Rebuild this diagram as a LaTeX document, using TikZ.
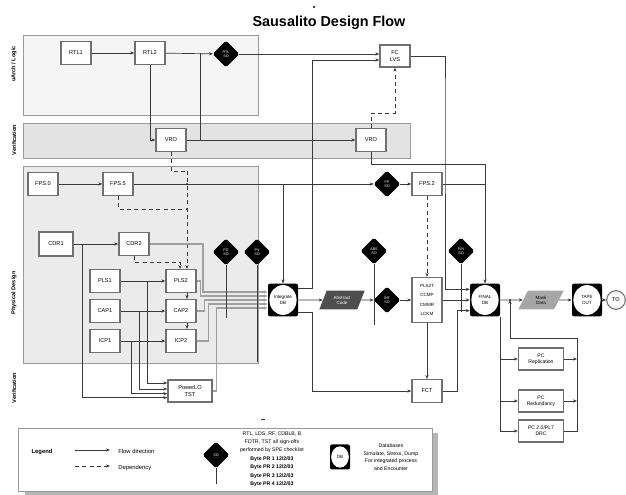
\documentclass[tikz,border=0pt]{standalone}
\usepackage{fontspec}
\setmainfont{Liberation Sans}
\usetikzlibrary{shapes.geometric,arrows.meta}
\definecolor{lnc}{HTML}{3A3A3A}
\definecolor{bandA}{HTML}{F5F5F5}
\definecolor{bandB}{HTML}{E3E3E3}
\definecolor{bandC}{HTML}{EBEBEB}
\definecolor{bandline}{HTML}{9A9A9A}
\definecolor{boxline}{HTML}{707070}
\definecolor{darkpar}{HTML}{4E4E4E}
\definecolor{lightpar}{HTML}{A6A6A6}
\definecolor{bundlec}{HTML}{A0A0A0}
\definecolor{shadowc}{HTML}{B5B5B5}
\newcommand\boxfs{\fontsize{4.2}{4.8}\selectfont}
\newcommand\sofs{\fontsize{2.8}{3.2}\selectfont}
\begin{document}
\begin{tikzpicture}[x=0.75pt,y=-0.75pt,
  every node/.style={font=\boxfs, align=center, inner sep=0pt},
  stepbox/.style={rectangle, draw=boxline, line width=1pt, fill=white, minimum width=22.5pt, minimum height=17pt},
  sodia/.style={diamond, aspect=1, fill=black, draw=black, rounded corners=1pt, minimum width=19.5pt, minimum height=19.5pt, text=white, font=\sofs},
  dbnode/.style={rectangle, fill=black, rounded corners=1.5pt, minimum width=22.5pt, minimum height=24.5pt, font=\fontsize{3.4}{3.9}\selectfont,
     path picture={\fill[white] (path picture bounding box.center) ellipse [x radius=10.2pt, y radius=11.2pt];}},
  parnode/.style={trapezium, trapezium left angle=65, trapezium right angle=115, trapezium stretches=true, minimum width=34pt, minimum height=14pt, font=\fontsize{3.4}{3.9}\selectfont},
  flow/.style={draw=lnc, line width=0.5pt, -{Stealth[length=3pt,width=2.4pt]}},
  plain/.style={draw=lnc, line width=0.5pt},
  dashl/.style={draw=lnc, line width=0.5pt, dash pattern=on 3pt off 2.5pt},
  dep/.style={dashl, -{Stealth[length=3pt,width=2.4pt]}},
  bun/.style={draw=bundlec, line width=0.9pt, -{Stealth[length=3pt,width=2.4pt]}},
  junc/.style={circle, fill=lnc, minimum size=1.6pt},
  lanelab/.style={rotate=90, font=\fontsize{4.2}{5}\selectfont\bfseries}
]
\useasboundingbox (0,0) rectangle (626,495);
\fill[white] (0,0) rectangle (626,495);

% swimlanes
\draw[draw=bandline, fill=bandA, line width=0.6pt] (23,35) rectangle (258,115);
\draw[draw=bandline, fill=bandB, line width=0.6pt] (23,123) rectangle (410,158);
\draw[draw=bandline, fill=bandC, line width=0.6pt] (23,166) rectangle (258,363);
\node[lanelab] (laneA) at (14,64) {uArch / Logic};
\node[lanelab] (laneB) at (14,140) {Verification};
\node[lanelab] (laneC) at (14,293) {Physical Design};
\node[lanelab] (laneD) at (14,388) {Verification};

% title
\node[circle, fill=black, minimum size=1.6pt] (tdot) at (314,7) {};
\node[font=\fontsize{10.8}{13}\selectfont\bfseries] (title) at (329,23) {Sausalito Design Flow};

% nodes
\node[stepbox] (rtla) at (76,53) {RTL1};
\node[stepbox] (rtlb) at (150,53) {RTL2};
\node[sodia] (soa) at (226,54) {RTL\\SO};
\node[stepbox, minimum height=16.5pt] (fclvs) at (395,56) {FC\\LVS};
\node[stepbox] (vroa) at (171,140) {VRO};
\node[stepbox] (vrob) at (371,140) {VRO};
\node[stepbox] (fpsa) at (43,184) {FPS.0};
\node[stepbox] (fpsb) at (118,184) {FPS.5};
\node[sodia] (sob) at (387,184) {FP\\SO};
\node[stepbox] (fpsc) at (427,184) {FPS.2};
\node[stepbox, minimum width=25.5pt, minimum height=18pt] (cdra) at (56,244) {CDR1};
\node[stepbox] (cdrb) at (134,244) {CDR2};
\node[sodia] (soc) at (226,252) {PD\\SO};
\node[sodia] (sod) at (257,252) {PV\\SO};
\node[stepbox] (plsa) at (105,281) {PLS1};
\node[stepbox] (plsb) at (181,281) {PLS2};
\node[stepbox] (capa) at (105,311) {CAP1};
\node[stepbox] (capb) at (181,311) {CAP2};
\node[stepbox] (icpa) at (105,341) {ICP1};
\node[stepbox] (icpb) at (181,341) {ICP2};
\node[stepbox, minimum width=33pt, minimum height=16.5pt] (plo) at (190,391) {PowerLO\\TST};
\node[dbnode] (dba) at (283,300) {Integrate\\DB};
\node[parnode, fill=darkpar, text=white] (absc) at (342,300) {Abstract\\Code};
\node[sodia] (soe) at (374,251) {ABS\\SO};
\node[sodia] (sof) at (387,300) {INT\\SO};
\node[sodia] (sog) at (461,251) {FIN\\SO};
\node[stepbox, minimum height=33.75pt, font=\fontsize{3.4}{7.2}\selectfont] (tall) at (427,300) {PLS2T\\CCMP\\CMMR\\LCKM};
\node[dbnode] (dbb) at (485,300) {FINAL\\DB};
\node[parnode, fill=lightpar] (mask) at (541,300) {Mask\\Data};
\node[dbnode] (dbc) at (587,300) {TAPE\\OUT};
\node[circle, draw=boxline, line width=0.8pt, fill=white, minimum size=14pt] (endc) at (616,300) {TO};
\node[stepbox] (fct) at (427,391) {FCT};
\node[stepbox, minimum width=33.75pt, minimum height=16.5pt, font=\fontsize{3.8}{4.6}\selectfont] (pcrep) at (541,359) {PC\\Replication};
\node[stepbox, minimum width=33.75pt, minimum height=16.5pt, font=\fontsize{3.8}{4.6}\selectfont] (pcred) at (541,401) {PC\\Redundancy};
\node[stepbox, minimum width=33.75pt, minimum height=16.5pt, font=\fontsize{3.8}{4.6}\selectfont] (pcdrc) at (541,431) {PC 2.0/PL7\\DRC};

% junction coordinates
\coordinate (ja) at (200,53);
\coordinate (jab) at (200,140);
\coordinate (jb) at (283,184);
\coordinate (jc) at (82,244);
\coordinate (jd) at (147,281);
\coordinate (je) at (139,311);
\coordinate (jf) at (131,341);
\coordinate (jg) at (187,184);
\coordinate (jh) at (187,209);
\coordinate (ji) at (187,171);
\coordinate (jk) at (180,262);
\coordinate (cx) at (445,100);
\coordinate (fb) at (577,338);
\coordinate (jm) at (510,300);

% uArch / verification connectors
\draw[flow] (rtla) -- (rtlb);
\draw[flow] (rtlb) -- (soa);
\draw[flow] (rtlb.south) |- (vroa.west);
\draw[plain] (ja) -- (jab);
\draw[flow] (vroa) -- (vrob);
\draw[flow] (soa.east) -- ([yshift=1.5pt]fclvs.west);
\draw[flow] ([yshift=9pt]dba.east) -- ++(14,0) |- ([yshift=-3pt]fclvs.west);
\draw[dep] (vrob.north) -- ++(0,-15) -| (fclvs.south);
\draw[flow] (fclvs.east) -| (cx) |- ([yshift=8pt]dbb.west);
\draw[flow] (vrob.south) -- ++(0,12) -| (dbb.north);
\draw[plain] (fpsc.east) -- (fpsc.east -| dbb.north);

% floorplan row
\draw[flow] (fpsa) -- (fpsb);
\draw[flow] (fpsb) -- (sob);
\draw[flow] (sob) -- (fpsc);
\draw[flow] (jb) -- (dba.north);
\draw[dashl] (vroa.south) |- (ji);
\draw[dep] (ji) -- ([xshift=4.5pt]plsb.north);
\draw[dashl] (fpsb.south) |- (jh);
\node[junc] (dg) at (jg) {};
\node[junc] (dh) at (jh) {};
\draw[dep] (cdrb.south) |- (jk) -- (jk |- plsb.north);

% physical design block
\draw[flow] (cdra) -- (cdrb);
\draw[flow] (jc) |- ([yshift=-5pt]plo.west);
\draw[flow] (plsa) -- (plsb);
\draw[flow] (jd) |- ([yshift=6pt]plo.west);
\draw[flow] (capa) -- (capb);
\draw[flow] (je) |- ([yshift=1.5pt]plo.west);
\draw[flow] (icpa) -- (icpb);
\draw[flow] (jf) |- ([yshift=-2pt]plo.west);
\draw[flow] ([xshift=4.5pt]plsb.south) -- ([xshift=4.5pt]capb.north);
\draw[flow] ([xshift=4.5pt]capb.south) -- ([xshift=4.5pt]icpb.north);

% bundle into integrate DB
\draw[bun] (cdrb.east) -- (203,244) |- ([yshift=6pt]dba.west);
\draw[bun] (plsb.east) -- ++(4,0) |- ([yshift=3pt]dba.west);
\draw[bun] (capb.east) -- ++(8,0) |- (dba.west);
\draw[bun] (icpb.east) -- ++(12,0) |- ([yshift=-3pt]dba.west);
\draw[bun] (plo.east) -- ++(4,0) |- ([yshift=-6pt]dba.west);

% sign-off stems
\draw[plain] (soc.south) -- ++(0,53);
\draw[plain] (sod.south) -- ++(0,97);
\draw[plain] (soe.south) -- ++(0,61);
\draw[plain] (sog.south) -- ++(0,48);

% main flow
\draw[flow] (dba.east) -- (absc.west);
\draw[flow] (absc.east) -- (sof.west);
\draw[flow] (sof.east) -- (tall.west);
\draw[dep] (fpsc.south) -- (tall.north);
\draw[flow] (tall.south) -- (fct.north);
\draw[flow] ([yshift=-9pt]dba.east) -- ++(14,0) |- (fct.west);
\draw[flow] (tall.east) -- (dbb.west);
\draw[flow] (fct.east) -- ++(15,0) |- ([yshift=-8pt]dbb.west);
\draw[flow] (dbb.east) -- (mask.west);
\draw[flow] (mask.east) -- (dbc.west);
\draw[flow] (dbc.east) -- (endc.west);

% PC checks
\draw[flow] (dbb.south east) |- (pcdrc.west);
\draw[flow] (dbb.south east |- pcrep.west) -- (pcrep.west);
\draw[flow] (dbb.south east |- pcred.west) -- (pcred.west);
\draw[flow] (pcrep.east) -- (pcrep.east -| fb);
\draw[flow] (pcred.east) -- (pcred.east -| fb);
\draw[flow] (pcdrc.east) -| (fb) -| (jm);
\node[junc] (dm) at (jm) {};

% small mark
\draw[plain] (261,419) -- (265,419);

% legend
\fill[shadowc] (25,433) rectangle (438,496);
\draw[draw=bandline, fill=white, line width=0.6pt] (18,428) rectangle (432,491);
\node[font=\fontsize{4.4}{5}\selectfont\bfseries] (lgd) at (42,452) {Legend};
\coordinate (lsa) at (75,450);
\coordinate (lsb) at (110,450);
\coordinate (lda) at (75,466);
\coordinate (ldb) at (110,466);
\draw[flow] (lsa) -- (lsb);
\draw[dep] (lda) -- (ldb);
\node[anchor=west, font=\fontsize{4.4}{5}\selectfont] (lfl) at (118,451) {Flow direction};
\node[anchor=west, font=\fontsize{4.4}{5}\selectfont] (ldp) at (118,468) {Dependency};
\node[sodia] (lso) at (216,455) {SO};
\draw[plain] (lso.south) -- ++(0,16);
\node[font=\fontsize{3.9}{6.3}\selectfont] (lsotxt) at (272,459) {RTL, LDS, RF, CDBLB, B\\FDTR, TST all sign-offs\\performed by SPE checklist\\\textbf{Byte PR 1 12/2/03}\\\textbf{Byte PR 2 12/2/03}\\\textbf{Byte PR 3 12/2/03}\\\textbf{Byte PR 4 12/2/03}};
\node[dbnode, minimum width=15pt, minimum height=18.75pt, path picture={\fill[white] (path picture bounding box.center) ellipse [x radius=6.6pt, y radius=8pt];}] (ldbn) at (340,457) {DB};
\node[font=\fontsize{3.9}{5.6}\selectfont] (ldbtxt) at (391,457) {Databases\\Simulate, Stress, Dump\\For integrated process\\and Encounter};
\end{tikzpicture}
\end{document}
